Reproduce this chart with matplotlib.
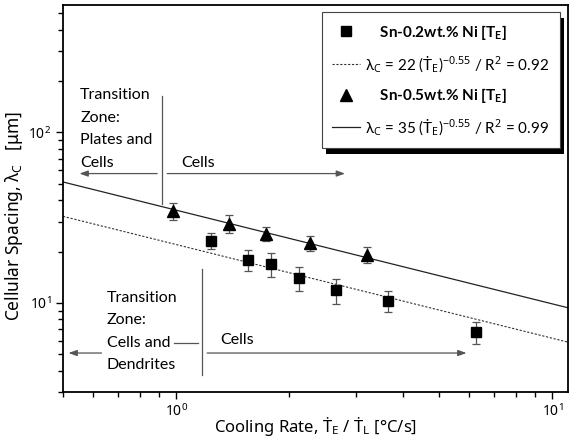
"""
cellular_spacing.py - cellular spacing vs cooling rate, Sn-Ni alloys (log-log)
"""

import matplotlib
matplotlib.use("Agg")
import matplotlib.pyplot as plt
from matplotlib.lines import Line2D
from matplotlib.patches import Rectangle
import numpy as np

plt.rcParams["font.family"] = ["Noto Sans", "DejaVu Sans"]
plt.rcParams["mathtext.fontset"] = "custom"
plt.rcParams["mathtext.rm"] = "Noto Sans"
plt.rcParams["mathtext.it"] = "Noto Sans:italic"
plt.rcParams["mathtext.bf"] = "Lato:bold"

# Sn-0.2wt.% Ni (squares)
rate_02 = [1.24, 1.55, 1.79, 2.12, 2.66, 3.65, 6.25]
spacing_02 = [23.2, 17.9, 16.9, 14.0, 11.9, 10.3, 6.75]
err_02 = [2.6, 2.5, 2.8, 2.2, 2.0, 1.4, 1.0]

# Sn-0.5wt.% Ni (triangles)
rate_05 = [0.98, 1.38, 1.73, 2.27, 3.21]
spacing_05 = [34.8, 29.2, 25.5, 22.5, 19.2]
err_05 = [4.0, 3.5, 2.5, 2.3, 2.0]

# fitted power laws  lambda = a * T^b
fit_02 = (22, -0.55)
fit_05 = (35, -0.55)

X_LIM = (0.5, 11)
Y_LIM = (3, 560)

GRAY = "#555555"
NOTE_FONT = ["Lato", "DejaVu Sans"]


def add_arrow(ax, x_from, x_to, y):
    ax.annotate("", xy=(x_to, y), xytext=(x_from, y),
                arrowprops=dict(arrowstyle="-|>,head_length=0.5,head_width=0.18",
                                color=GRAY, lw=0.9, shrinkA=0, shrinkB=0))


def plot_spacing():
    fig = plt.figure(figsize=(5.74, 4.46), dpi=100)
    ax = fig.add_axes([63 / 574, 1 - 392 / 446, 505 / 574, 387 / 446])
    ax.set_xscale("log")
    ax.set_yscale("log")
    ax.set_xlim(*X_LIM)
    ax.set_ylim(*Y_LIM)

    # --- fit lines ---
    xs = np.array(X_LIM)
    ax.plot(xs, fit_02[0] * xs ** fit_02[1], color="#333333", lw=0.8,
            linestyle=(0, (2, 1.5)))
    ax.plot(xs, fit_05[0] * xs ** fit_05[1], color="#222222", lw=0.9)

    # --- data with error bars ---
    ax.errorbar(rate_02, spacing_02, yerr=err_02, fmt="s", color="black",
                markersize=6.5, ecolor=GRAY, elinewidth=0.9, capsize=3, capthick=0.9)
    ax.errorbar(rate_05, spacing_05, yerr=err_05, fmt="^", color="black",
                markersize=8, ecolor=GRAY, elinewidth=0.9, capsize=3, capthick=0.9)

    # --- transition zone annotations (top) ---
    ax.text(0.555, 182, "Transition\nZone:\nPlates and\nCells", fontsize=11.5,
            family=NOTE_FONT, va="top", ha="left", linespacing=1.78)
    ax.plot([0.918, 0.918], [38.2, 163], color=GRAY, lw=0.9)
    add_arrow(ax, 0.89, 0.553, 57.4)
    add_arrow(ax, 0.946, 2.81, 57.4)
    ax.text(1.03, 60, "Cells", fontsize=11.5, family=NOTE_FONT,
            va="bottom", ha="left")

    # --- transition zone annotations (bottom) ---
    ax.text(0.653, 11.8, "Transition\nZone:\nCells and\nDendrites", fontsize=11.5,
            family=NOTE_FONT, va="top", ha="left", linespacing=1.78)
    ax.plot([0.985, 1.14], [5.82, 5.82], color=GRAY, lw=0.9)
    ax.plot([1.172, 1.172], [3.77, 15.8], color=GRAY, lw=0.9)
    add_arrow(ax, 0.633, 0.517, 5.08)
    add_arrow(ax, 1.208, 5.91, 5.08)
    ax.text(1.31, 5.5, "Cells", fontsize=11.5, family=NOTE_FONT,
            va="bottom", ha="left")

    # --- axes styling ---
    for side in ax.spines.values():
        side.set_linewidth(1.3)
    ax.tick_params(which="both", direction="out", top=False, right=False,
                   labelsize=10, width=1)
    ax.tick_params(which="major", length=5)
    ax.tick_params(which="minor", length=3.5)
    ax.set_xlabel("Cooling Rate, Ṫ$_\\mathrm{E}$ / Ṫ$_\\mathrm{L}$ [°C/s]",
                  fontsize=12, labelpad=-4)
    ax.set_ylabel("Cellular Spacing, λ$_\\mathrm{C}$   [μm]", fontsize=12.5)
    ax.yaxis.set_label_coords(-0.075, 0.455)

    # --- legend ---
    handles = [
        Line2D([], [], marker="s", color="black", linestyle="none", markersize=6.5),
        Line2D([], [], color="#333333", lw=0.8, linestyle=(0, (2, 1.5))),
        Line2D([], [], marker="^", color="black", linestyle="none", markersize=8),
        Line2D([], [], color="#222222", lw=0.9),
    ]
    labels = [
        "    Sn-0.2wt.% Ni [T$_\\mathbf{E}$]",
        "λ$_\\mathrm{C}$ = 22 (Ṫ$_\\mathrm{E}$)$^{\\mathrm{-0.55}}$ / R$^\\mathrm{2}$ = 0.92",
        "    Sn-0.5wt.% Ni [T$_\\mathbf{E}$]",
        "λ$_\\mathrm{C}$ = 35 (Ṫ$_\\mathrm{E}$)$^{\\mathrm{-0.55}}$ / R$^\\mathrm{2}$ = 0.99",
    ]
    leg = ax.legend(handles, labels, loc="upper right",
                    bbox_to_anchor=(0.984, 0.982), borderaxespad=0,
                    prop={"family": NOTE_FONT, "size": 11},
                    labelspacing=0.8, handlelength=1.8,
                    handletextpad=0.35, borderpad=0.7, fancybox=False,
                    framealpha=1, edgecolor="#444444")
    leg.get_frame().set_linewidth(0.8)
    leg.set_zorder(6)
    for i in (0, 2):
        leg.get_texts()[i].set_fontweight("bold")

    # black drop shadow behind the legend box
    fig.canvas.draw()
    bb = leg.get_window_extent().transformed(ax.transAxes.inverted())
    dx, dy = 4 / 505, 6 / 387
    ax.add_patch(Rectangle((bb.x0 + dx, bb.y0 - dy), bb.width, bb.height,
                           transform=ax.transAxes, facecolor="black",
                           edgecolor="none", zorder=5.9, clip_on=False))

    fig.savefig("out.png", dpi=100)
    plt.close(fig)


if __name__ == "__main__":
    plot_spacing()
